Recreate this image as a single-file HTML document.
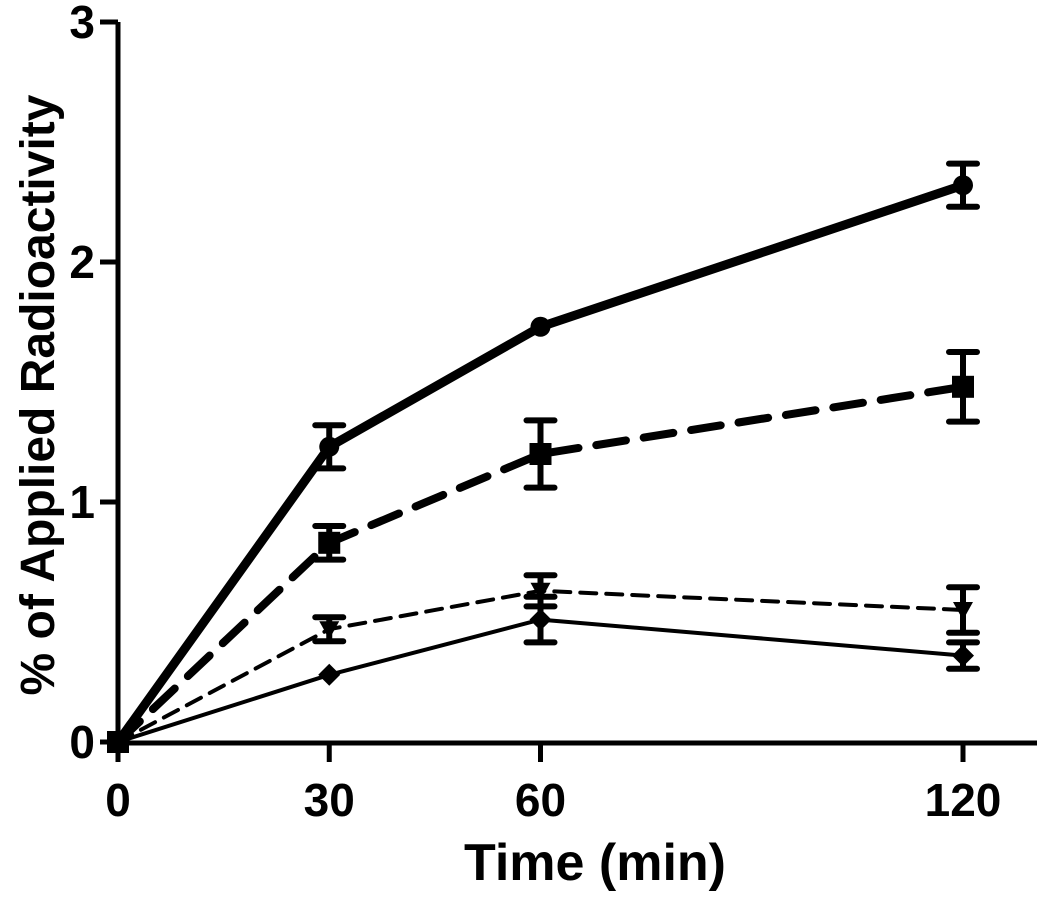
<!DOCTYPE html>
<html><head><meta charset="utf-8"><style>
html,body{margin:0;padding:0;background:#fff;}
svg text{font-family:"Liberation Sans",Arial,sans-serif;font-weight:bold;fill:#000;}
</style></head><body>
<svg id="chart" width="1050" height="906" viewBox="0 0 1050 906" xmlns="http://www.w3.org/2000/svg">
<g id="axes"></g><g id="series"></g>
<text x="595" y="880" font-size="52" text-anchor="middle">Time (min)</text>
<text transform="translate(54,395) rotate(-90)" font-size="48" text-anchor="middle">% of Applied Radioactivity</text>
</svg>
<script>
const xTicks=[0,30,60,120];
const yTicks=[0,1,2,3];
const times=[0,30,60,120];
const circleVals=[0,1.23,1.73,2.32];
const circleErr=[0,0.09,0.01,0.09];
const squareVals=[0,0.83,1.2,1.48];
const squareErr=[0,0.07,0.14,0.145];
const triVals=[0,0.47,0.63,0.55];
const triErr=[0,0.05,0.065,0.095];
const diaVals=[0,0.28,0.51,0.36];
const diaErr=[0,0.01,0.095,0.055];

const NS="http://www.w3.org/2000/svg";
const X=v=>118+v*(963-118)/120;
const Y=v=>742-v*240;
function mk(tag,attrs,parent){const e=document.createElementNS(NS,tag);for(const k in attrs)e.setAttribute(k,attrs[k]);parent.appendChild(e);return e;}
const axes=document.getElementById('axes');
const ser=document.getElementById('series');
let a=mk('line',{x1:118,y1:Y(3),x2:118,y2:745,stroke:'#000','stroke-width':5},axes);


a=mk('line',{x1:116,y1:743,x2:1037,y2:743,stroke:'#000','stroke-width':5},axes);


yTicks.forEach(t=>{
  const l=mk('line',{x1:100,y1:Y(t),x2:118,y2:Y(t),stroke:'#000','stroke-width':5},axes);
  
  
  const tx=mk('text',{x:95,y:Y(t)+16,'font-size':46,'text-anchor':'end'},axes);
  tx.textContent=t;
  
  
});
xTicks.forEach(t=>{
  const l=mk('line',{x1:X(t),y1:743,x2:X(t),y2:762,stroke:'#000','stroke-width':5},axes);
  
  
  const tx=mk('text',{x:X(t),y:816,'font-size':46,'text-anchor':'middle'},axes);
  tx.textContent=t;
  
  
});
function series(name,vals,errs,width,dash,marker,ms){
  const g=mk('g',{},ser);
  
  
  const pts=times.map((t,i)=>X(t)+','+Y(vals[i])).join(' ');
  const pl=mk('polyline',{points:pts,fill:'none',stroke:'#000','stroke-width':width,'stroke-dasharray':dash,'stroke-linecap':'round','stroke-linejoin':'round'},g);
  
  
  times.forEach((t,i)=>{
    const cx=X(t),cy=Y(vals[i]);
    if(errs[i]>0.02){
      const e=mk('path',{d:`M${cx},${Y(vals[i]+errs[i])}V${Y(vals[i]-errs[i])}M${cx-14},${Y(vals[i]+errs[i])}H${cx+14}M${cx-14},${Y(vals[i]-errs[i])}H${cx+14}`,stroke:'#000','stroke-width':6,'stroke-linecap':'round',fill:'none'},g);
      
      
    }
    let m;
    if(marker==='circle')m=mk('circle',{cx:cx,cy:cy,r:ms},g);
    else if(marker==='square')m=mk('rect',{x:cx-ms,y:cy-ms,width:2*ms,height:2*ms},g);
    else if(marker==='tri')m=mk('path',{d:`M${cx-ms},${cy-ms*0.8}H${cx+ms}L${cx},${cy+ms}Z`},g);
    else m=mk('path',{d:`M${cx},${cy-ms}L${cx+ms},${cy}L${cx},${cy+ms}L${cx-ms},${cy}Z`},g);
    m.setAttribute('fill','#000');
    
    
  });
}
series('series-circle',circleVals,circleErr,9,'none','circle',10);
series('series-square',squareVals,squareErr,8,'30 18','square',11);
series('series-triangle',triVals,triErr,4,'16 10','tri',10);
series('series-diamond',diaVals,diaErr,4,'none','diamond',11);
</script>
</body></html>
